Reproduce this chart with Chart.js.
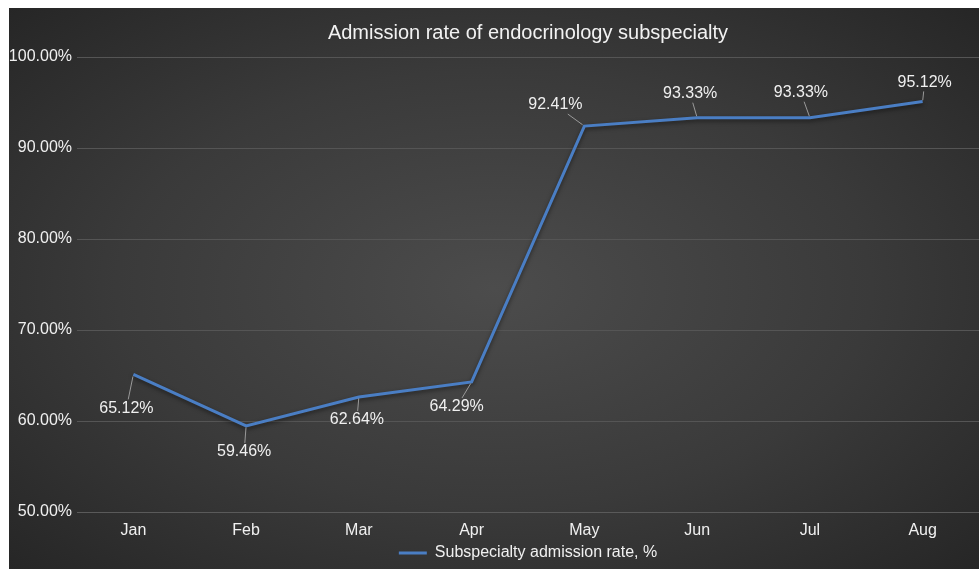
<!DOCTYPE html>
<html>
<head>
<meta charset="utf-8">
<script src="https://cdn.jsdelivr.net/npm/chart.js@4.4.0/dist/chart.umd.min.js"></script>
<style>
  html, body { margin: 0; padding: 0; background: #fff; }
  #wrap {
    position: absolute; left: 9px; top: 8px; width: 970px; height: 561px;
    background: radial-gradient(ellipse farthest-corner at 50% 50%, #4c4c4c 0%, #3a3a3a 55%, #262626 100%);
  }
</style>
</head>
<body>
<div id="wrap"><canvas id="rateChart" width="970" height="561"></canvas></div>
<script>
var months = ["Jan", "Feb", "Mar", "Apr", "May", "Jun", "Jul", "Aug"];
var rates = [65.12, 59.46, 62.64, 64.29, 92.41, 93.33, 93.33, 95.12];
var yTicks = [50, 60, 70, 80, 90, 100];

// where each value label sits, relative to its point (pixels)
var labelShift = [[-7, 34], [-2, 26], [-2, 23], [-15, 25], [-29, -21], [-7, -24], [-9, -25], [2, -19]];

var FONT = "'Liberation Sans', Arial, sans-serif";

var valueLabels = {
  id: 'valueLabels',
  afterDatasetsDraw: function(chart) {
    var ctx = chart.ctx;
    var meta = chart.getDatasetMeta(0);
    ctx.save();
    ctx.font = '16px ' + FONT;
    ctx.textAlign = 'center';
    ctx.textBaseline = 'middle';
    meta.data.forEach(function(pt, i) {
      var txt = rates[i].toFixed(2) + '%';
      var lx = pt.x + labelShift[i][0];
      var ly = pt.y + labelShift[i][1];
      var w = ctx.measureText(txt).width / 2 + 2;
      var h = 9;
      // leader line from point to label box edge
      var dx = lx - pt.x, dy = ly - pt.y;
      var t = Math.min(Math.abs(dx) > 0 ? (Math.abs(dx) - w) / Math.abs(dx) : 1,
                       Math.abs(dy) > 0 ? (Math.abs(dy) - h) / Math.abs(dy) : 1);
      if (Math.abs(dx) <= w) t = (Math.abs(dy) - h) / Math.abs(dy);
      if (t > 0.1) {
        ctx.strokeStyle = '#9a9a9a';
        ctx.lineWidth = 1;
        ctx.beginPath();
        ctx.moveTo(pt.x + dx * 0.06, pt.y + dy * 0.06);
        ctx.lineTo(pt.x + dx * t, pt.y + dy * t);
        ctx.stroke();
      }
      ctx.fillStyle = '#f0f0f0';
      ctx.fillText(txt, lx, ly);
    });
    ctx.restore();
  }
};

var lineShadow = {
  id: 'lineShadow',
  beforeDatasetDraw: function(chart) {
    var ctx = chart.ctx;
    ctx.save();
    ctx.shadowColor = 'rgba(0,0,0,0.5)';
    ctx.shadowBlur = 4;
    ctx.shadowOffsetY = 2;
  },
  afterDatasetDraw: function(chart) {
    chart.ctx.restore();
  }
};

function buildChart() {
  var ctx = document.getElementById('rateChart').getContext('2d');
  var chart = new Chart(ctx, {
    type: 'line',
    data: {
      labels: months,
      datasets: [{
        label: "Subspecialty admission rate, %",
        borderColor: '#4a7ec4',
        backgroundColor: '#4a7ec4',
        borderWidth: 3,
        pointRadius: 0,
        tension: 0,
        data: rates
      }]
    },
    plugins: [lineShadow, valueLabels],
    options: {
      responsive: false,
      animation: false,
      layout: { padding: { left: 0, right: 0, top: 0, bottom: -2 } },
      plugins: {
        title: {
          display: true,
          fullSize: false,
          text: 'Admission rate of endocrinology subspecialty',
          color: '#f2f2f2',
          font: { family: FONT, size: 20, weight: 'normal' },
          padding: { top: 13, bottom: 12 }
        },
        legend: {
          position: 'bottom',
          fullSize: false,
          labels: {
            color: '#f0f0f0',
            font: { family: FONT, size: 16 },
            usePointStyle: true,
            pointStyle: 'line',
            pointStyleWidth: 28,
            padding: 4
          }
        },
        tooltip: { enabled: false }
      },
      scales: {
        x: {
          offset: true,
          grid: { display: false },
          border: { display: true, color: '#5a5a5a', width: 1 },
          ticks: { color: '#f0f0f0', font: { family: FONT, size: 16 }, padding: 1 },
          afterFit: function(s) { s.height = 29; }
        },
        y: {
          min: 50,
          max: 100,
          afterBuildTicks: function(s) { s.ticks = yTicks.map(function(v) { return { value: v }; }); },
          grid: { color: '#555555', lineWidth: 1, drawTicks: false },
          border: { display: false },
          ticks: {
            color: '#f0f0f0',
            font: { family: FONT, size: 16 },
            padding: 5,
            callback: function(v) { return v.toFixed(2) + '%'; }
          },
          afterFit: function(s) { s.width = 68; }
        }
      }
    }
  });
}

buildChart();
</script>
</body>
</html>
